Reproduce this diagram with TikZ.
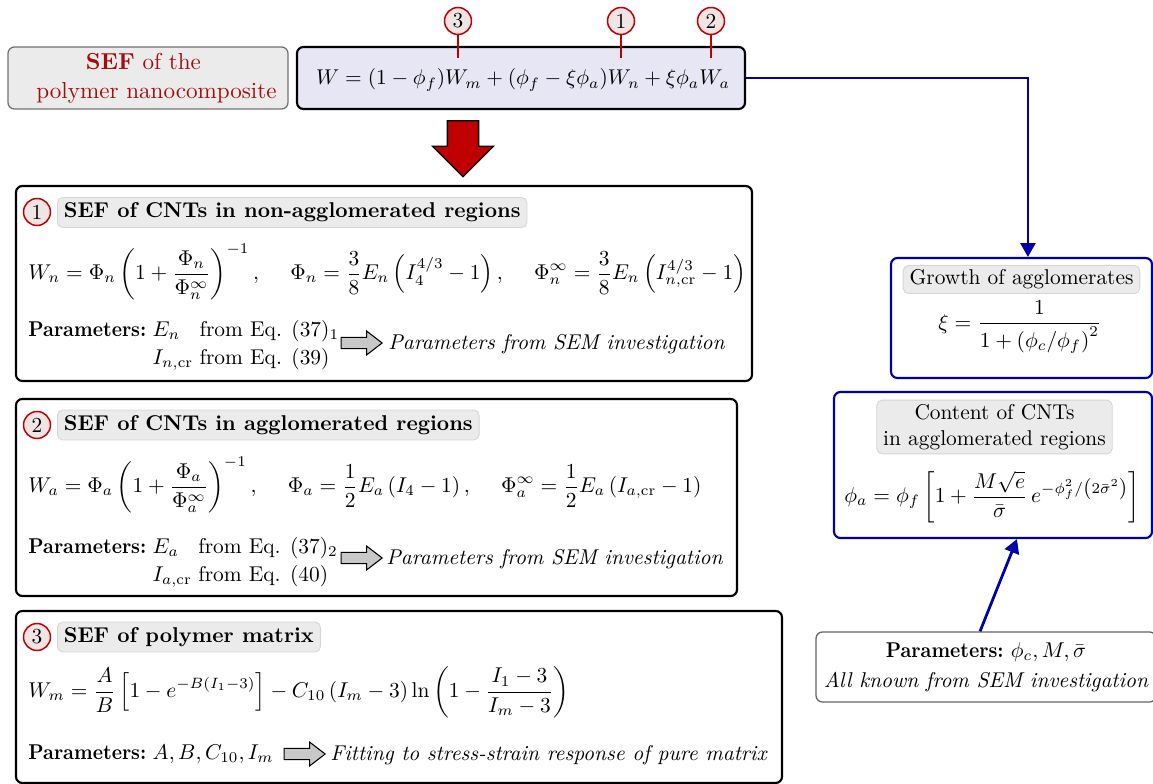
\documentclass[tikz,border=0pt]{standalone}
\usepackage{amsmath}
\usepackage{graphicx}
\usetikzlibrary{arrows.meta,shapes.arrows}
\definecolor{sefred}{HTML}{A00F0F}
\definecolor{ringred}{HTML}{C00000}
\definecolor{ringfill}{HTML}{F0E4E4}
\definecolor{labelgray}{HTML}{EBEBEB}
\definecolor{labeledge}{HTML}{D5D5D5}
\definecolor{eqfill}{HTML}{E6E6F5}
\definecolor{linkblue}{HTML}{0000AA}
\definecolor{arrowgray}{HTML}{C8C8C8}
\def\u{0.4673pt}
\newcommand{\gapeq}{\hspace{13pt}}
\newcommand{\parword}{\scalebox{0.91}[1]{\textbf{Parameters:}}}
\newcommand{\parlabel}{\parword\hspace{3pt}}
\tikzset{
  panel/.style={draw=black, line width=1pt, rounded corners=3pt, fill=white, inner sep=0pt},
  bluepanel/.style={draw=linkblue, line width=1pt, rounded corners=3pt, fill=white, inner sep=0pt},
  graypanel/.style={draw=black!55, line width=0.6pt, rounded corners=3pt, fill=labelgray, inner sep=0pt},
  tag/.style={fill=labelgray, draw=labeledge, line width=0.4pt, rounded corners=2.5pt, inner xsep=3pt, inner ysep=2.5pt},
  ring/.style={circle, draw=ringred, fill=ringfill, line width=0.7pt, inner sep=0pt, minimum size=12.6pt},
  ringline/.style={draw=ringred, line width=0.8pt},
  link/.style={draw=linkblue, line width=1.3pt, -{Triangle[length=6.5pt,width=7pt]}},
  hint/.style={single arrow, draw=black, line width=0.5pt, fill=arrowgray, inner sep=2.34pt,
    minimum height=19.2pt, single arrow head extend=3pt, single arrow tip angle=75},
  txt/.style={inner sep=0pt, anchor=west},
}
\begin{document}
\begin{tikzpicture}[x=\u, y=-\u]
\useasboundingbox (0,0) rectangle (1153,784);

% --- total strain energy function -------------------------------------
\node[graypanel, minimum width={280*\u}, minimum height={62*\u}] (title) at (148,78) {};
\node[align=center, text=sefred, inner sep=0pt, font=\fontsize{10.8}{13.5}\selectfont] (titletxt) at (156.5,78)
  {\textbf{SEF} of the\hspace*{12.2pt}\\polymer nanocomposite};

\node[panel, fill=eqfill, minimum width={448*\u}, minimum height={62*\u}] (eq) at (521,78) {};
\node[inner sep=0pt] (eqtxt) at (523,80)
  {$W=(1-\phi_f)W_m+(\phi_f-\xi\phi_a)W_n+\xi\phi_aW_a$};

\node[ring] (c3) at (458,21) {3};
\node[ring] (c1) at (621,21) {1};
\node[ring] (c2) at (711,21) {2};
\coordinate (t3) at (458,58);
\coordinate (t1) at (621,58);
\coordinate (t2) at (711,58);
\draw[ringline] (c3) -- (t3);
\draw[ringline] (c1) -- (t1);
\draw[ringline] (c2) -- (t2);

\node[single arrow, shape border rotate=270, draw=black, line width=0.6pt, fill=ringred,
  inner sep=7pt, minimum height={56*\u}, single arrow head extend=7pt] (down) at (463,141) {};

% --- panel 1: non-agglomerated CNTs ----------------------------------
\node[panel, minimum width={736*\u}, minimum height={195*\u}] (p1) at (384,283.5) {};
\node[ring] (r1) at (37,212) {1};
\node[tag, anchor=west] (l1) at (57,212.5) {\textbf{SEF of CNTs in non-agglomerated regions}};
\node[txt] (e1) at (28,272)
  {$\displaystyle W_n=\Phi_n\left(1+\frac{\Phi_n}{\Phi_n^\infty}\right)^{-1},\gapeq
    \Phi_n=\frac{3}{8}E_n\left(I_4^{4/3}-1\right),\gapeq
    \Phi_n^\infty=\frac{3}{8}E_n\left(I_{n,\mathrm{cr}}^{4/3}-1\right)$};
\node[txt, anchor=north west] (q1) at (28,318)
  {\parlabel\begin{tabular}[t]{@{}l@{\hspace{3pt}}l@{}}
    $E_n$ & from Eq. $(37)_1$\\[1pt] $I_{n,\mathrm{cr}}$ & from Eq. $(39)$\end{tabular}};
\node[hint] (h1) at (358,343) {};
\node[txt] (s1) at (388,344) {\itshape Parameters from SEM investigation};

% --- panel 2: agglomerated CNTs --------------------------------------
\node[panel, minimum width={721*\u}, minimum height={197*\u}] (p2) at (376.5,497.5) {};
\node[ring] (r2) at (37,425) {2};
\node[tag, anchor=west] (l2) at (57,425) {\textbf{SEF of CNTs in agglomerated regions}};
\node[txt] (e2) at (28,485)
  {$\displaystyle W_a=\Phi_a\left(1+\frac{\Phi_a}{\Phi_a^\infty}\right)^{-1},\gapeq
    \Phi_a=\frac{1}{2}E_a\left(I_4-1\right),\gapeq
    \Phi_a^\infty=\frac{1}{2}E_a\left(I_{a,\mathrm{cr}}-1\right)$};
\node[txt, anchor=north west] (q2) at (28,535)
  {\parlabel\begin{tabular}[t]{@{}l@{\hspace{3pt}}l@{}}
    $E_a$ & from Eq. $(37)_2$\\[1pt] $I_{a,\mathrm{cr}}$ & from Eq. $(40)$\end{tabular}};
\node[hint] (h2) at (358,558) {};
\node[txt] (s2) at (386,559) {\itshape Parameters from SEM investigation};

% --- panel 3: polymer matrix -----------------------------------------
\node[panel, minimum width={766*\u}, minimum height={172*\u}] (p3) at (399,697) {};
\node[ring] (r3) at (37,637) {3};
\node[tag, anchor=west] (l3) at (57,637) {\textbf{SEF of polymer matrix}};
\node[txt] (e3) at (28,692)
  {$\displaystyle W_m=\frac{A}{B}\left[1-e^{-B(I_1-3)}\right]-C_{10}\left(I_m-3\right)\ln\left(1-\frac{I_1-3}{I_m-3}\right)$};
\node[txt] (q3) at (28,754) {\parlabel$A,B,C_{10},I_m$};
\node[hint] (h3) at (301,754) {};
\node[txt] (s3) at (330,755) {\itshape Fitting to stress-strain response of pure matrix};

% --- right column ----------------------------------------------------
\node[bluepanel, minimum width={261*\u}, minimum height={120*\u}] (gb) at (1021.5,318) {};
\node[tag, inner ysep=2pt] (gl) at (1021.5,279.5) {Growth of agglomerates};
\node[inner sep=0pt] (ge) at (1020,327)
  {$\displaystyle \xi=\frac{1}{1+\left(\phi_c/\phi_f\right)^2}$};

\node[bluepanel, minimum width={318*\u}, minimum height={146*\u}] (cb) at (993,465) {};
\node[tag, align=center, inner ysep=2pt] (cl) at (994.5,427) {Content of CNTs\\in agglomerated regions};
\node[inner sep=0pt] (ce) at (992,497)
  {$\displaystyle \phi_a=\phi_f\left[1+\frac{M\sqrt{e}}{\bar\sigma}\,e^{-\phi_f^2/\left(2\bar\sigma^2\right)}\right]$};

\node[draw=black!60, line width=0.6pt, rounded corners=3pt, fill=white,
  minimum width={340*\u}, minimum height={70*\u}, inner sep=0pt] (pb) at (986,667) {};
\node[align=center, inner sep=0pt] (pt) at (986,667)
  {\parword{} $\phi_c,M,\bar\sigma$\\[2pt]\itshape All known from SEM investigation};

% --- connectors ------------------------------------------------------
\draw[link] (eq.east) -| ([xshift=3pt]gb.north);
\draw[link] ([xshift=-2.8pt]pb.north) -- ([xshift=11.2pt]cb.south);
\end{tikzpicture}
\end{document}
